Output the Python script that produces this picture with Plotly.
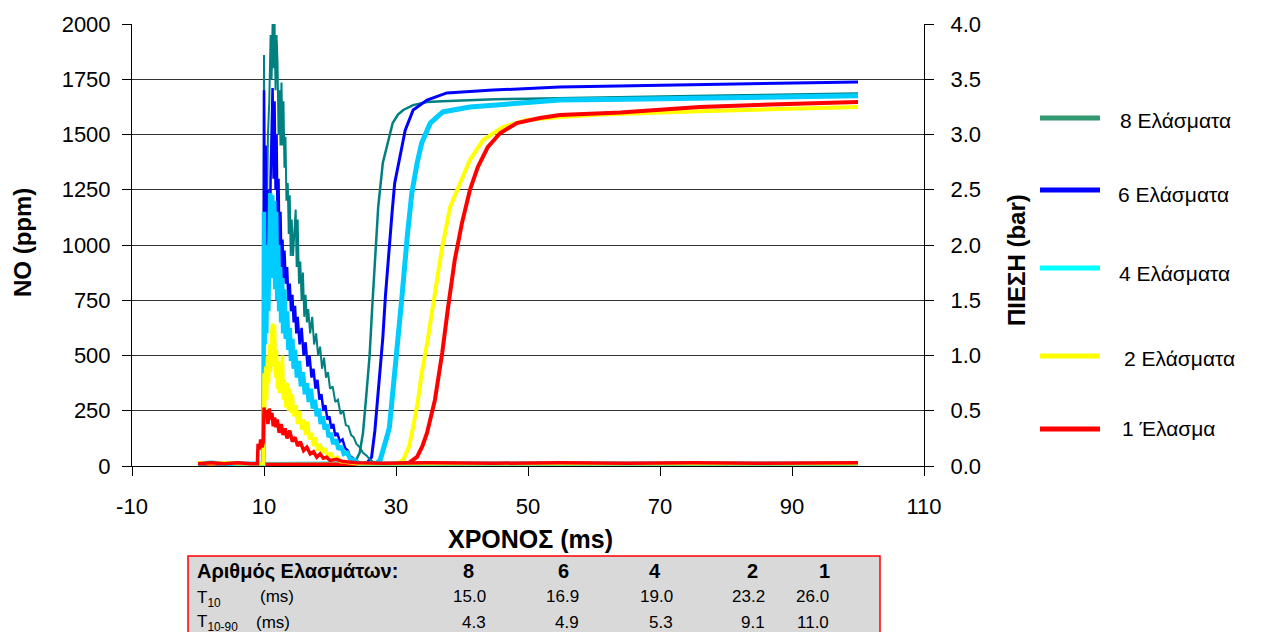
import plotly.graph_objects as go

# ---------------- NO concentration (ppm, left axis) ----------------
t_no_8 = [0, 5, 10, 15, 20, 23.0, 23.5, 24.0, 24.5, 25.0, 25.5, 26.0, 26.4, 26.9, 27.3, 28.0, 28.8, 29.5, 30.3, 31.1, 32.6, 34.7, 37, 40, 45, 50, 55, 60, 65, 70, 75, 80, 85, 90, 95, 100]
no_8 = [5, 6, 5, 6, 5, 8, 15, 30, 60, 150, 320, 500, 720, 1000, 1170, 1371, 1475, 1552, 1590, 1611, 1633, 1647, 1650, 1655, 1660, 1662, 1665, 1668, 1670, 1672, 1674, 1676, 1678, 1680, 1682, 1685]

t_no_6 = [0, 5, 10, 15, 20, 24, 25.5, 26.3, 26.8, 27.2, 27.6, 28.0, 28.4, 28.9, 29.4, 29.8, 30.6, 31.4, 32.6, 34.7, 37.7, 44.7, 54.8, 65, 76, 88, 100]
no_6 = [5, 6, 5, 6, 5, 6, 10, 40, 160, 300, 440, 580, 770, 980, 1145, 1280, 1398, 1520, 1611, 1656, 1688, 1701, 1715, 1720, 1725, 1730, 1738]

t_no_4 = [0, 5, 10, 15, 20, 25, 27.0, 27.6, 28.1, 28.6, 29.0, 29.4, 30.2, 30.9, 31.7, 32.4, 33.2, 33.9, 35.2, 37.1, 41.2, 49.8, 54.8, 65, 76, 88, 100]
no_4 = [5, 6, 5, 6, 5, 6, 10, 27, 70, 130, 175, 290, 538, 765, 1036, 1235, 1371, 1462, 1552, 1602, 1624, 1642, 1656, 1660, 1665, 1670, 1675]

t_no_2 = [0, 5, 10, 15, 20, 25, 30, 31.1, 32.0, 32.6, 33.3, 33.9, 34.8, 35.9, 37.0, 38.2, 39.4, 41.2, 43.2, 46.2, 49.8, 54.8, 61, 68, 76, 88, 100]
no_2 = [5, 6, 5, 6, 5, 6, 8, 27, 90, 176, 290, 420, 570, 783, 991, 1172, 1262, 1385, 1475, 1534, 1566, 1579, 1590, 1598, 1605, 1615, 1624]

t_no_1 = [0, 5, 10, 15, 20, 25, 30, 32.0, 33.2, 34.0, 34.7, 35.9, 37.0, 37.9, 38.9, 40.0, 41.2, 42.4, 43.9, 45.8, 48.3, 51.8, 54.8, 64, 76, 88, 100]
no_1 = [5, 6, 5, 6, 5, 6, 8, 15, 41, 90, 150, 299, 511, 720, 932, 1100, 1249, 1353, 1443, 1507, 1552, 1575, 1588, 1600, 1624, 1637, 1647]

# ---------------- Pressure (bar, right axis) ----------------
t_p_8 = [0, 2, 4, 6, 8, 9.9,
         10.0, 10.15, 10.3, 10.45, 10.6, 10.8, 11.0, 11.15, 11.3, 11.45,
         11.6, 11.75, 11.9, 12.05, 12.2, 12.35, 12.5, 12.65, 12.8, 12.95,
         13.1, 13.25, 13.4, 13.6, 13.75, 13.9, 14.05, 14.2, 14.4, 14.6,
         14.8, 14.95, 15.1, 15.3, 15.5, 15.7, 15.9, 16.1, 16.3, 16.5,
         16.7, 17.0, 17.3, 17.6, 17.9, 18.2, 18.5, 18.8, 19.1, 19.4,
         19.7, 20.0, 20.4, 20.8, 21.2, 21.6, 22.0, 22.4, 22.8, 23.2,
         23.6, 24.0, 24.5, 25.0, 25.6, 26.0, 26.5, 27.5, 40, 60,
         80, 100]
p_8 = [0.02, 0.03, 0.02, 0.03, 0.02, 0.02,
       3.72, 2.0, 2.8, 2.3, 3.0, 3.3, 3.9, 3.5, 4.0, 3.6,
       4.0, 3.4, 3.9, 3.65, 3.0, 3.4, 2.9, 3.47, 2.9, 3.3,
       2.7, 2.98, 2.4, 2.56, 2.1, 2.45, 1.9, 2.23, 1.9, 2.1,
       2.32, 1.8, 2.23, 1.65, 1.85, 1.5, 1.75, 1.35, 1.55, 1.3,
       1.42, 1.2, 1.35, 1.1, 1.2, 1.0, 1.08, 0.88, 0.98, 0.8,
       0.85, 0.7, 0.72, 0.58, 0.6, 0.47, 0.5, 0.37, 0.36, 0.28,
       0.26, 0.2, 0.17, 0.12, 0.09, 0.06, 0.04, 0.02, 0.02, 0.02,
       0.02, 0.02]

t_p_6 = [0, 2, 4, 6, 8, 9.9,
         10.0, 10.1, 10.25, 10.4, 10.55, 10.7, 10.85, 11.0, 11.15, 11.3,
         11.45, 11.6, 11.75, 11.9, 12.05, 12.2, 12.35, 12.5, 12.65, 12.8,
         12.95, 13.1, 13.3, 13.5, 13.7, 13.9, 14.1, 14.3, 14.5, 14.7,
         14.9, 15.1, 15.4, 15.7, 16.0, 16.3, 16.6, 16.9, 17.2, 17.5,
         17.8, 18.1, 18.4, 18.7, 19.0, 19.3, 19.6, 19.9, 20.2, 20.5,
         20.8, 21.1, 21.5, 21.9, 22.3, 22.7, 23.0, 23.5, 24.0, 25.0,
         40, 60, 80, 100]
p_6 = [0.02, 0.02, 0.03, 0.02, 0.02, 0.02,
       3.4, 1.7, 2.9, 1.6, 2.5, 2.0, 1.8, 2.6, 2.9, 3.42,
       2.6, 3.3, 2.5, 3.0, 2.2, 2.6, 1.9, 2.3, 1.8, 2.05,
       1.7, 1.95, 1.65, 1.8, 1.5, 1.65, 1.4, 1.55, 1.3, 1.45,
       1.2, 1.35, 1.1, 1.25, 1.0, 1.12, 0.9, 1.0, 0.8, 0.88,
       0.7, 0.78, 0.6, 0.65, 0.5, 0.55, 0.42, 0.45, 0.34, 0.38,
       0.27, 0.3, 0.22, 0.24, 0.16, 0.14, 0.09, 0.07, 0.04, 0.02,
       0.02, 0.02, 0.02, 0.02]

t_p_4 = [0, 2, 4, 6, 8, 9.9,
         10.0, 10.1, 10.2, 10.35, 10.5, 10.65, 10.8, 10.95, 11.1, 11.25,
         11.4, 11.55, 11.7, 11.85, 12.0, 12.15, 12.3, 12.45, 12.6, 12.75,
         12.9, 13.1, 13.3, 13.5, 13.7, 13.9, 14.1, 14.3, 14.5, 14.7,
         15.0, 15.3, 15.6, 15.9, 16.2, 16.5, 16.8, 17.1, 17.4, 17.7,
         18.0, 18.3, 18.6, 18.9, 19.2, 19.5, 19.8, 20.1, 20.5, 20.9,
         21.3, 21.7, 22.1, 22.6, 23.0, 23.8, 24.5, 40, 60, 80,
         100]
p_4 = [0.02, 0.03, 0.02, 0.02, 0.03, 0.02,
       2.3, 1.1, 1.9, 1.2, 2.0, 1.4, 2.2, 2.47, 1.8, 2.45,
       1.7, 2.4, 1.6, 2.3, 1.5, 2.0, 1.4, 1.8, 1.3, 1.7,
       1.2, 1.6, 1.15, 1.4, 1.05, 1.25, 0.95, 1.15, 0.88, 1.05,
       0.8, 0.95, 0.72, 0.85, 0.65, 0.75, 0.58, 0.7, 0.52, 0.6,
       0.45, 0.52, 0.38, 0.45, 0.33, 0.38, 0.26, 0.3, 0.2, 0.24,
       0.15, 0.18, 0.11, 0.12, 0.07, 0.05, 0.02, 0.02, 0.02, 0.02,
       0.02]

t_p_2 = [0, 2, 4, 6, 8, 9.9,
         10.0, 10.1, 10.25, 10.4, 10.55, 10.7, 10.85, 11.0, 11.15, 11.3,
         11.45, 11.6, 11.75, 11.9, 12.05, 12.2, 12.35, 12.5, 12.65, 12.8,
         12.95, 13.1, 13.3, 13.5, 13.7, 13.9, 14.1, 14.3, 14.5, 14.8,
         15.1, 15.4, 15.7, 16.0, 16.3, 16.6, 16.9, 17.2, 17.5, 17.8,
         18.1, 18.5, 18.9, 19.3, 19.7, 20.1, 20.6, 21.1, 21.6, 22.5,
         24, 40, 60, 80, 100]
p_2 = [0.03, 0.02, 0.03, 0.02, 0.02, 0.02,
       0.84, 0.5, 0.9, 0.6, 1.0, 0.75, 1.1, 0.85, 1.2, 1.29,
       0.9, 1.28, 0.8, 1.05, 0.7, 0.95, 0.66, 0.9, 0.7, 1.0,
       0.6, 0.78, 0.53, 0.75, 0.5, 0.7, 0.48, 0.65, 0.45, 0.55,
       0.38, 0.5, 0.33, 0.42, 0.28, 0.4, 0.24, 0.3, 0.18, 0.26,
       0.14, 0.2, 0.12, 0.16, 0.08, 0.12, 0.06, 0.08, 0.04, 0.03,
       0.02, 0.02, 0.02, 0.02, 0.02]

t_p_1 = [0, 2, 4, 6, 8, 9.0,
         9.1, 9.3, 9.5, 9.7, 9.9, 10.0, 10.2, 10.4, 10.6, 10.8,
         11.0, 11.2, 11.4, 11.6, 11.8, 12.0, 12.3, 12.6, 12.9, 13.2,
         13.5, 13.9, 14.3, 14.7, 15.1, 15.5, 16.0, 16.5, 17.0, 17.5,
         18.0, 18.5, 19.0, 19.5, 20.0, 21.0, 22.0, 24.0, 28, 35,
         45, 55, 65, 75, 85, 95, 100]
p_1 = [0.02, 0.03, 0.02, 0.03, 0.02, 0.02,
       0.2, 0.15, 0.24, 0.17, 0.22, 0.53, 0.45, 0.5, 0.38, 0.52,
       0.42, 0.48, 0.36, 0.44, 0.35, 0.42, 0.3, 0.38, 0.28, 0.34,
       0.25, 0.32, 0.22, 0.26, 0.18, 0.22, 0.14, 0.17, 0.11, 0.13,
       0.08, 0.11, 0.07, 0.08, 0.05, 0.06, 0.04, 0.03, 0.025, 0.03,
       0.025, 0.03, 0.025, 0.03, 0.025, 0.03, 0.03]

# ---------------- Summary table ----------------
plates = ["8", "6", "4", "2", "1"]
t10 = ["15.0", "16.9", "19.0", "23.2", "26.0"]
t10_90 = ["4.3", "4.9", "5.3", "9.1", "11.0"]

legend_names = ["8 Ελάσματα", "6 Ελάσματα", "4 Ελάσματα", "2 Ελάσματα", "1 Έλασμα"]

# ---------------- Styling ----------------
FONT = "Arial, Liberation Sans, sans-serif"
W, H = 1277, 632
L, R, T, B = 132, 924, 24, 466   # plot area in pixels

line_colors = ["#008080", "#0000ff", "#00ccff", "#ffff00", "#ff0000"]
legend_colors = ["#339970", "#0000ff", "#00ffff", "#ffff00", "#ff0000"]
widths = [2.5, 3, 5, 4, 4]


def px(x):
    return (x - L) / (R - L)


def py(y):
    return (B - y) / (B - T)


no_sets = [(t_no_8, no_8), (t_no_6, no_6), (t_no_4, no_4), (t_no_2, no_2), (t_no_1, no_1)]
p_sets = [(t_p_8, p_8), (t_p_6, p_6), (t_p_4, p_4), (t_p_2, p_2), (t_p_1, p_1)]

fig = go.Figure()
for i in range(5):
    tn, vn = no_sets[i]
    tp, vp = p_sets[i]
    fig.add_trace(go.Scatter(x=tn, y=vn, mode="lines", yaxis="y",
                             line=dict(color=line_colors[i], width=widths[i]),
                             name=legend_names[i], showlegend=False))
    fig.add_trace(go.Scatter(x=tp, y=vp, mode="lines", yaxis="y2",
                             line=dict(color=line_colors[i], width=widths[i] - 0.5),
                             name=legend_names[i], showlegend=False))

shapes = []
annotations = []

# legend drawn at the right of the chart
leg_line_y = [118, 190, 268, 356, 429]
leg_text_y = [120, 195, 273, 358, 428]
leg_text_x = [1118, 1116, 1117, 1122, 1120]
for i in range(5):
    shapes.append(dict(type="line", xref="paper", yref="paper",
                       x0=px(1040), x1=px(1100), y0=py(leg_line_y[i]), y1=py(leg_line_y[i]),
                       line=dict(color=legend_colors[i], width=5)))
    annotations.append(dict(xref="paper", yref="paper", x=px(leg_text_x[i]), y=py(leg_text_y[i]),
                            text=legend_names[i], showarrow=False, xanchor="left", yanchor="middle",
                            font=dict(family=FONT, size=21, color="black")))

# axis titles
title_font = dict(family=FONT, size=24, color="black")
annotations.append(dict(xref="paper", yref="paper", x=px(530), y=py(539), text="<b>ΧΡΟΝΟΣ (ms)</b>",
                        showarrow=False, xanchor="center", yanchor="middle",
                        font=dict(family=FONT, size=25, color="black")))
annotations.append(dict(xref="paper", yref="paper", x=px(22), y=py(243), text="<b>NO (ppm)</b>",
                        showarrow=False, xanchor="center", yanchor="middle", textangle=-90,
                        font=title_font))
annotations.append(dict(xref="paper", yref="paper", x=px(1016), y=py(260), text="<b>ΠΙΕΣΗ (bar)</b>",
                        showarrow=False, xanchor="center", yanchor="middle", textangle=-90,
                        font=title_font))

# summary table box
shapes.append(dict(type="rect", xref="paper", yref="paper",
                   x0=px(188), x1=px(880), y0=py(556), y1=py(660),
                   fillcolor="#d9d9d9", line=dict(color="#ff0000", width=1.5)))

tfont = dict(family=FONT, size=17, color="black")
hfont = dict(family=FONT, size=20, color="black")
row_y = [571, 596, 622]
head_x = [468, 563, 655, 752, 824]
col_right = [488, 581, 675, 767, 831]
annotations.append(dict(xref="paper", yref="paper", x=px(195), y=py(row_y[0]),
                        text="<b>Αριθμός Ελασμάτων:</b>", showarrow=False,
                        xanchor="left", yanchor="middle", font=hfont))
for j in range(5):
    annotations.append(dict(xref="paper", yref="paper", x=px(head_x[j]), y=py(row_y[0]),
                            text="<b>" + plates[j] + "</b>", showarrow=False,
                            xanchor="center", yanchor="middle", font=hfont))
    annotations.append(dict(xref="paper", yref="paper", x=px(col_right[j]), y=py(row_y[1]),
                            text=t10[j], showarrow=False,
                            xanchor="right", yanchor="middle", font=tfont))
    annotations.append(dict(xref="paper", yref="paper", x=px(col_right[j]), y=py(row_y[2]),
                            text=t10_90[j], showarrow=False,
                            xanchor="right", yanchor="middle", font=tfont))
annotations.append(dict(xref="paper", yref="paper", x=px(195), y=py(row_y[1] + 3),
                        text="T<sub>10</sub>", showarrow=False,
                        xanchor="left", yanchor="middle", font=tfont))
annotations.append(dict(xref="paper", yref="paper", x=px(258), y=py(row_y[1]),
                        text="(ms)", showarrow=False,
                        xanchor="left", yanchor="middle", font=tfont))
annotations.append(dict(xref="paper", yref="paper", x=px(195), y=py(row_y[2] + 1),
                        text="T<sub>10-90</sub>", showarrow=False,
                        xanchor="left", yanchor="middle", font=tfont))
annotations.append(dict(xref="paper", yref="paper", x=px(254), y=py(row_y[2]),
                        text="(ms)", showarrow=False,
                        xanchor="left", yanchor="middle", font=tfont))

tick_font = dict(family=FONT, size=22, color="black")
fig.update_layout(
    width=W, height=H,
    margin=dict(l=L, r=W - R, t=T, b=H - B, autoexpand=False),
    paper_bgcolor="white", plot_bgcolor="white",
    showlegend=False,
    xaxis=dict(range=[-10, 110], tickmode="array", tickvals=[-10, 10, 30, 50, 70, 90, 110],
               ticktext=["-10", "10", "30", "50", "70", "90", "110"],
               ticks="outside", ticklen=9, tickcolor="black", showline=True, linecolor="black",
               linewidth=1, showgrid=False, zeroline=False, tickfont=tick_font,
               ticklabelstandoff=12),
    yaxis=dict(range=[0, 2000], tickmode="array", tickvals=list(range(0, 2001, 250)),
               ticks="outside", ticklen=9, tickcolor="black", showline=True, linecolor="black",
               linewidth=1, showgrid=True, gridcolor="#333333", gridwidth=1, zeroline=False,
               tickfont=tick_font, ticklabelstandoff=7),
    yaxis2=dict(range=[0, 4], overlaying="y", side="right", tickmode="array",
                tickvals=[0, 0.5, 1.0, 1.5, 2.0, 2.5, 3.0, 3.5, 4.0],
                ticktext=["0.0", "0.5", "1.0", "1.5", "2.0", "2.5", "3.0", "3.5", "4.0"],
                ticks="outside", ticklen=9, tickcolor="black", showline=True, linecolor="black",
                linewidth=1, showgrid=False, zeroline=False, tickfont=tick_font,
                ticklabelstandoff=12),
    shapes=shapes,
    annotations=annotations,
)

fig.write_html("out.html")
